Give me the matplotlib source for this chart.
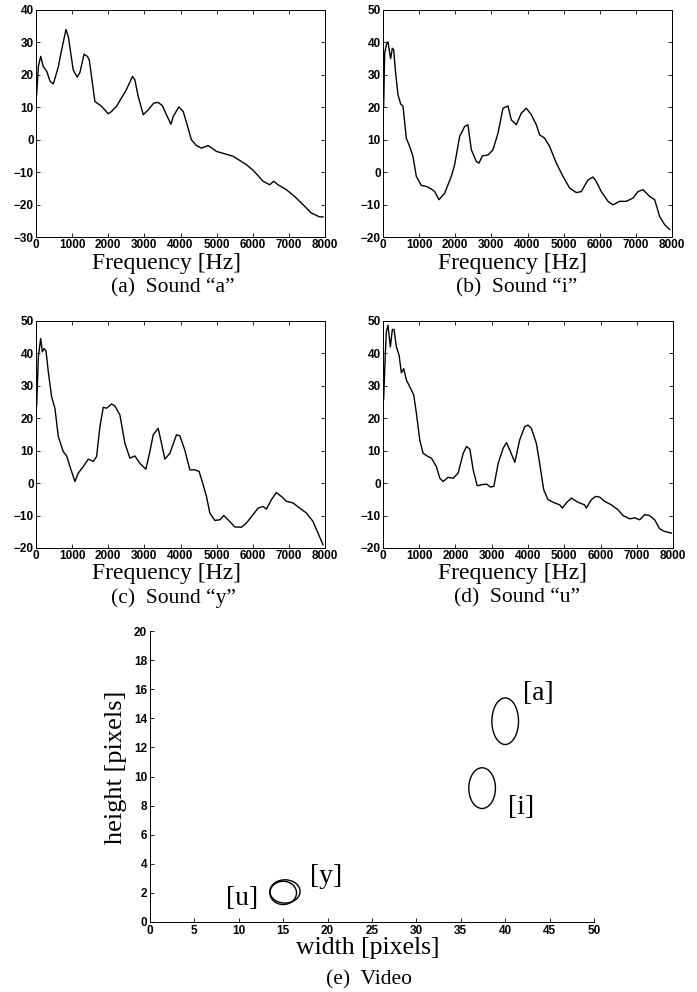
import matplotlib
matplotlib.use("Agg")
import matplotlib.pyplot as plt
from matplotlib.patches import Ellipse

# spectra: frequency [Hz], level
freq_a = [18, 65, 130, 200, 300, 390, 480, 620, 710, 830, 895, 1030, 1140, 1215, 1330, 1420, 1475,
          1630, 1815, 2000, 2090, 2230, 2500, 2670, 2735, 2830, 2970, 3105, 3260, 3380, 3500, 3610,
          3735, 3800, 3955, 4075, 4210, 4300, 4440, 4580, 4765, 4995, 5455, 5825, 6010, 6285, 6470,
          6580, 6700, 6930, 7160, 7390, 7620, 7850, 7945]
level_a = [13.9, 22.6, 25.7, 22.6, 21, 18, 17.2, 22.6, 27.7, 34, 31.8, 21.5, 19.3, 20.7, 26.4, 25.7, 24.6,
           11.8, 10.3, 8, 8.7, 10.3, 15.4, 19.5, 18.5, 13.3, 7.7, 9.2, 11.3, 11.5, 10.5, 7.7,
           4.8, 7.2, 10.1, 8.7, 3.6, 0, -1.8, -2.6, -1.8, -3.6, -5.1, -7.7, -9.4, -12.8, -13.9,
           -12.8, -13.9, -15.4, -17.5, -20, -22.6, -23.8, -23.8]

freq_i = [18, 46, 92, 138, 185, 212, 258, 295, 350, 415, 490, 553, 645, 738, 830, 922, 1060, 1200,
          1338, 1430, 1550, 1707, 1891, 1983, 2122, 2260, 2352, 2445, 2583, 2657, 2750, 2906, 3045,
          3183, 3321, 3460, 3552, 3690, 3829, 3967, 4106, 4244, 4336, 4475, 4613, 4797, 4982, 5166,
          5351, 5489, 5674, 5812, 5904, 6043, 6228, 6366, 6550, 6735, 6920, 7059, 7197, 7382, 7520,
          7659, 7797, 7935]
level_i = [20, 36.7, 39.2, 40.2, 36.7, 35, 38.2, 37.7, 30.5, 23.8, 21, 20.4, 10.5, 7.9, 4.8, -1.3, -4.1, -4.4,
           -5.2, -6, -8.5, -6.5, -1.3, 2.3, 11, 14.1, 14.6, 6.9, 3.3, 2.8, 5, 5.3, 6.9,
           12, 19.7, 20.4, 16.1, 14.6, 18.2, 19.7, 17.7, 14.6, 11.5, 10.5, 7.9, 2.8, -1.3, -4.9,
           -6.3, -6, -2.4, -1.5, -2.9, -6, -9, -10.1, -9, -9, -8, -6, -5.4, -7.5, -8.5,
           -13.7, -16.2, -17.7]

freq_y = [18, 65, 130, 175, 220, 276, 341, 433, 525, 618, 756, 848, 940, 1078, 1170, 1309, 1447, 1585,
          1677, 1769, 1862, 1954, 2092, 2184, 2323, 2461, 2599, 2737, 2875, 3041, 3152, 3244, 3382,
          3474, 3567, 3705, 3889, 3982, 4120, 4258, 4396, 4516, 4627, 4719, 4811, 4949, 5088, 5198,
          5318, 5502, 5687, 5825, 6009, 6147, 6286, 6378, 6516, 6654, 6793, 6931, 7115, 7300, 7484,
          7668, 7806, 7945]
level_y = [23.8, 39, 44.6, 40.5, 41.5, 40.8, 34.3, 26.6, 23, 14.3, 9.7, 8.4, 5.1, 0.5, 3.1, 5.1, 7.4, 6.7,
           8.2, 17.4, 23.4, 23.1, 24.4, 23.8, 21, 12.3, 7.7, 8.4, 6.1, 4.3, 9.7, 14.9, 16.9,
           12.3, 7.4, 9.2, 14.9, 14.6, 10.2, 4.1, 4.1, 3.6, -0.5, -4.1, -9.2, -11.5, -11.3, -10,
           -11.3, -13.5, -13.6, -12.3, -9.7, -7.7, -7.2, -8, -5.1, -2.9, -4.1, -5.6, -6.1, -7.7, -9.2,
           -11.8, -15.4, -19]

freq_u = [18, 64, 92, 138, 203, 258, 304, 369, 443, 507, 572, 645, 783, 848, 922, 1014, 1106, 1244,
          1336, 1474, 1567, 1659, 1797, 1935, 2073, 2212, 2304, 2396, 2488, 2598, 2718, 2856, 2966,
          3058, 3177, 3315, 3407, 3517, 3637, 3770, 3908, 4000, 4092, 4230, 4322, 4432, 4552, 4736,
          4874, 4947, 5057, 5195, 5379, 5563, 5609, 5747, 5867, 5977, 6115, 6299, 6483, 6621, 6805,
          6943, 7081, 7218, 7356, 7494, 7632, 7770, 7954]
level_u = [25.8, 40, 46.7, 48.7, 42, 47.4, 47.4, 42, 39.5, 34, 35.3, 31.8, 28.7, 27.2, 21.5, 13.3, 9.2, 8.2,
           7.7, 5.1, 1.5, 0.5, 1.8, 1.5, 3.1, 9.2, 11.3, 10.5, 4.1, -0.8, -0.5, -0.3, -1.2,
           -1, 6.1, 10.8, 12.5, 9.7, 6.4, 13.3, 17.4, 17.9, 16.9, 12.3, 6.1, -2, -5.1, -6.1,
           -6.7, -7.7, -6.1, -4.6, -5.9, -6.7, -7.7, -5.1, -4.1, -4.3, -5.6, -6.7, -8.2, -10, -11,
           -10.7, -11.3, -9.7, -10, -11.3, -14.1, -14.9, -15.4]

# video: mouth width / height clusters
vowels = ["[a]", "[i]", "[y]", "[u]"]
mouth_w = [40.0, 37.4, 15.2, 15.0]
mouth_h = [13.8, 9.2, 2.1, 2.0]
spread_w = [3.0, 3.0, 3.4, 3.0]
spread_h = [3.2, 2.8, 1.6, 1.6]
label_xy = [(42.0, 15.7), (40.3, 7.9), (18.0, 3.1), (8.6, 1.6)]

serif = "Liberation Serif"
sans = "Liberation Sans"

fig = plt.figure(figsize=(6.97, 9.92), dpi=100)
W, H = 697.0, 992.0

def spec_axes(left, top, right, bottom, f, v, ylim, yticks, xlab_x, xlab_y, cap, cap_x, cap_y):
    ax = fig.add_axes([left / W, 1 - bottom / H, (right - left) / W, (bottom - top) / H])
    ax.plot(f, v, color="black", lw=1.0)
    ax.set_xlim(0, 8000)
    ax.set_ylim(*ylim)
    ax.set_xticks(range(0, 8001, 1000))
    ax.set_yticks(yticks)
    ax.tick_params(direction="in", top=True, right=True, length=3, width=0.6, pad=1.5)
    for lab in ax.get_xticklabels() + ax.get_yticklabels():
        lab.set_fontfamily(sans)
        lab.set_fontweight("bold")
        lab.set_fontsize(8.5)
    for s in ax.spines.values():
        s.set_linewidth(0.7)
    fig.text(xlab_x / W, 1 - xlab_y / H, "Frequency [Hz]", ha="center", va="center",
             fontfamily=serif, fontsize=17)
    fig.text(cap_x / W, 1 - cap_y / H, cap, ha="center", va="center",
             fontfamily=serif, fontsize=15.5)
    return ax

spec_axes(36, 10, 325, 237, freq_a, level_a, (-30, 40), range(-30, 41, 10),
          167, 263, "(a)  Sound \u201ca\u201d", 173, 288)
spec_axes(383, 10, 672, 237, freq_i, level_i, (-20, 50), range(-20, 51, 10),
          513, 263, "(b)  Sound \u201ci\u201d", 517, 288)
spec_axes(36, 321, 325, 548, freq_y, level_y, (-20, 50), range(-20, 51, 10),
          167, 574, "(c)  Sound \u201cy\u201d", 173, 598)
spec_axes(383, 321, 673, 548, freq_u, level_u, (-20, 50), range(-20, 51, 10),
          513, 574, "(d)  Sound \u201cu\u201d", 517, 598)

# panel (e)
ax = fig.add_axes([150 / W, 1 - 922 / H, 444 / W, 291 / H])
for cx, cy, sw, sh in zip(mouth_w, mouth_h, spread_w, spread_h):
    ax.add_patch(Ellipse((cx, cy), sw, sh, fill=False, edgecolor="black", lw=1.0))
for name, (tx, ty) in zip(vowels, label_xy):
    ax.text(tx, ty, name, fontfamily=serif, fontsize=20, ha="left", va="center")
ax.set_xlim(0, 50)
ax.set_ylim(0, 20)
ax.set_xticks(range(0, 51, 5))
ax.set_yticks(range(0, 21, 2))
ax.spines["top"].set_visible(False)
ax.spines["right"].set_visible(False)
for s in ax.spines.values():
    s.set_linewidth(0.7)
ax.tick_params(direction="in", length=3, width=0.6, pad=2)
for lab in ax.get_xticklabels() + ax.get_yticklabels():
    lab.set_fontfamily(sans)
    lab.set_fontweight("bold")
    lab.set_fontsize(8.5)
fig.text(368 / W, 1 - 948 / H, "width [pixels]", ha="center", va="center",
         fontfamily=serif, fontsize=18.5)
fig.text(369 / W, 1 - 980 / H, "(e)  Video", ha="center", va="center",
         fontfamily=serif, fontsize=15.5)
fig.text(116 / W, 1 - 767 / H, "height [pixels]", ha="center", va="center", rotation=90,
         fontfamily=serif, fontsize=19)

fig.savefig("out.png", dpi=100, facecolor="white")
